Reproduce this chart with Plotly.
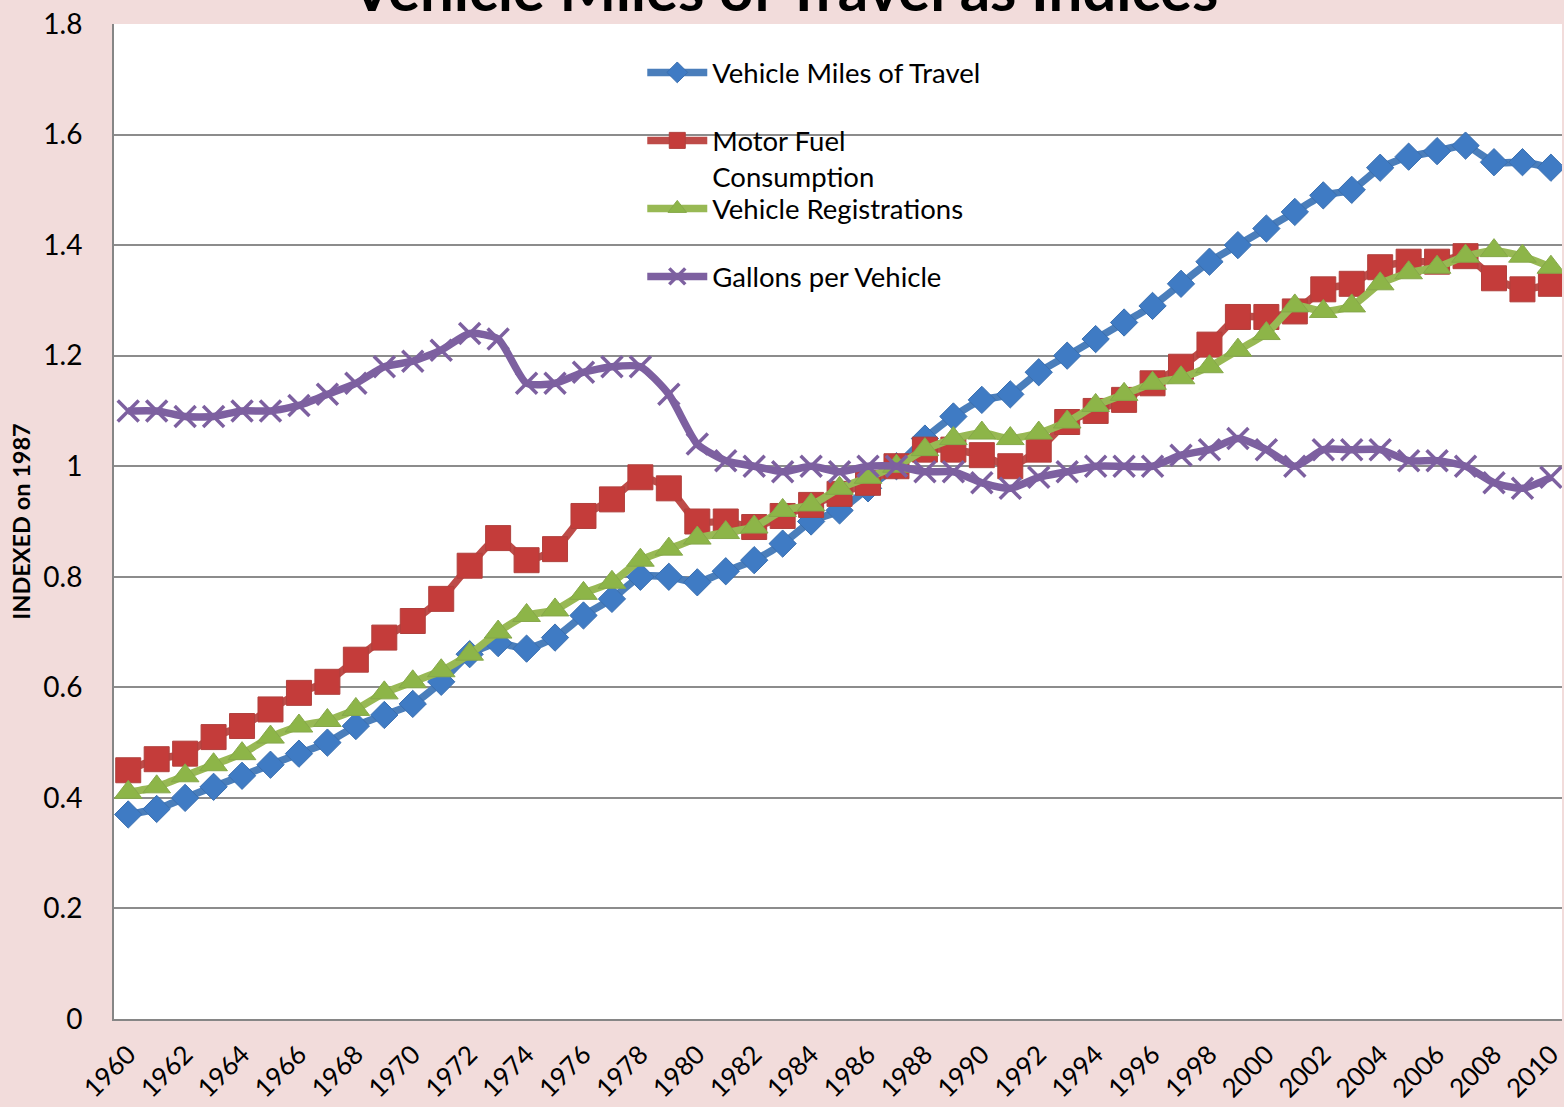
import plotly.graph_objects as go

years = list(range(1960, 2011))

vmt = [0.37, 0.38, 0.40, 0.42, 0.44, 0.46, 0.48, 0.50, 0.53, 0.55,
       0.57, 0.61, 0.66, 0.68, 0.67, 0.69, 0.73, 0.76, 0.80, 0.80,
       0.79, 0.81, 0.83, 0.86, 0.90, 0.92, 0.96, 1.00, 1.05, 1.09,
       1.12, 1.13, 1.17, 1.20, 1.23, 1.26, 1.29, 1.33, 1.37, 1.40,
       1.43, 1.46, 1.49, 1.50, 1.54, 1.56, 1.57, 1.58, 1.55, 1.55,
       1.54]

fuel = [0.45, 0.47, 0.48, 0.51, 0.53, 0.56, 0.59, 0.61, 0.65, 0.69,
        0.72, 0.76, 0.82, 0.87, 0.83, 0.85, 0.91, 0.94, 0.98, 0.96,
        0.90, 0.90, 0.89, 0.91, 0.93, 0.95, 0.97, 1.00, 1.03, 1.03,
        1.02, 1.00, 1.03, 1.08, 1.10, 1.12, 1.15, 1.18, 1.22, 1.27,
        1.27, 1.28, 1.32, 1.33, 1.36, 1.37, 1.37, 1.38, 1.34, 1.32,
        1.33]

registrations = [0.41, 0.42, 0.44, 0.46, 0.48, 0.51, 0.53, 0.54, 0.56, 0.59,
                 0.61, 0.63, 0.66, 0.70, 0.73, 0.74, 0.77, 0.79, 0.83, 0.85,
                 0.87, 0.88, 0.89, 0.92, 0.93, 0.96, 0.98, 1.00, 1.03, 1.05,
                 1.06, 1.05, 1.06, 1.08, 1.11, 1.13, 1.15, 1.16, 1.18, 1.21,
                 1.24, 1.29, 1.28, 1.29, 1.33, 1.35, 1.36, 1.38, 1.39, 1.38,
                 1.36]

gallons = [1.10, 1.10, 1.09, 1.09, 1.10, 1.10, 1.11, 1.13, 1.15, 1.18,
           1.19, 1.21, 1.24, 1.23, 1.15, 1.15, 1.17, 1.18, 1.18, 1.13,
           1.04, 1.01, 1.00, 0.99, 1.00, 0.99, 1.00, 1.00, 0.99, 0.99,
           0.97, 0.96, 0.98, 0.99, 1.00, 1.00, 1.00, 1.02, 1.03, 1.05,
           1.03, 1.00, 1.03, 1.03, 1.03, 1.01, 1.01, 1.00, 0.97, 0.96,
           0.98]

series_names = ["Vehicle Miles of Travel", "Motor Fuel<br>Consumption",
                "Vehicle Registrations", "Gallons per Vehicle"]
tick_years = list(range(1960, 2011, 2))
y_ticks = [0, 0.2, 0.4, 0.6, 0.8, 1, 1.2, 1.4, 1.6, 1.8]
y_ticktext = ["0", "0.2", "0.4", "0.6", "0.8", "1", "1.2", "1.4", "1.6", "1.8"]
title_text = "Vehicle Miles of Travel as Indices"
y_title = "INDEXED on 1987"

FONT = "Lato"
W, H = 1564, 1107
M_L, M_T, M_B = 114, 24, 88
PLOT_W = W - M_L
PLOT_H = H - M_T - M_B

fig = go.Figure()

styles = [
    dict(data=vmt, line="#4A7EBB", marker=dict(symbol="diamond", size=21, color="#3F7BC4",
                                                  line=dict(width=1, color="#3A6FB0"))),
    dict(data=fuel, line="#BE4B48", marker=dict(symbol="square", size=25, color="#C43C3A",
                                                   line=dict(width=1, color="#B0403D"))),
    dict(data=registrations, line="#98B954", marker=dict(symbol="triangle-up", size=24, color="#8DB548",
                                                            line=dict(width=1, color="#86A84A"))),
    dict(data=gallons, line="#7D60A0", marker=dict(symbol="x-thin-open", size=21, color="#7D60A0",
                                                      line=dict(width=3.5, color="#7D60A0"))),
]

# legend entry positions (pixels from top of figure) of each entry's first text line
legend_tops = [48, 116, 184, 252]
legend_ids = ["legend", "legend2", "legend3", "legend4"]

for i, (name, st) in enumerate(zip(series_names, styles)):
    fig.add_trace(go.Scatter(
        x=years, y=st["data"], name=name, mode="lines+markers",
        line=dict(color=st["line"], width=7.5, shape="spline", smoothing=0.6),
        marker=st["marker"], legend=legend_ids[i],
    ))

fig.add_annotation(
    text=title_text, xref="paper", yref="paper", x=0.4625, y=1 - 2.5 / PLOT_H,
    xanchor="center", yanchor="bottom", showarrow=False,
    font=dict(family=FONT, size=60, color="#000000", weight="bold"),
)

legend_common = dict(xanchor="left", yanchor="top", bgcolor="rgba(0,0,0,0)",
                     itemwidth=60, valign="top",
                     font=dict(family=FONT, size=27.5, color="#000000"))
leg_x = (643 - M_L) / PLOT_W
legend_layout = {}
for lid, top in zip(legend_ids, legend_tops):
    legend_layout[lid] = dict(x=leg_x, y=1 - (top - M_T) / PLOT_H, **legend_common)

fig.update_layout(
    width=W, height=H,
    margin=dict(l=M_L, r=0, t=M_T, b=M_B),
    paper_bgcolor="#F2DCDB", plot_bgcolor="#FFFFFF",
    font=dict(family=FONT, size=26, color="#000000"),
    showlegend=True,
    **legend_layout,
    xaxis=dict(range=[1959.5, 2010.39], tickmode="array", tickvals=tick_years,
               ticktext=[str(y) for y in tick_years], tickangle=-45,
               showgrid=False, showline=True, linecolor="#868686", linewidth=2,
               ticks="", ticklabelstandoff=8, zeroline=False,
               ticklabeloverflow="allow",
               tickfont=dict(family=FONT, size=26)),
    yaxis=dict(range=[0, 1.8], tickmode="array", tickvals=y_ticks, ticktext=y_ticktext,
               showgrid=True, gridcolor="#8C8C8C", gridwidth=1.5,
               showline=True, linecolor="#868686", linewidth=2, zeroline=False,
               ticks="", ticklabelstandoff=24,
               tickfont=dict(family=FONT, size=28),
               title=dict(text=y_title, standoff=6,
                          font=dict(family=FONT, size=23.5, weight="bold"))),
)

fig.write_html("out.html", config={"displayModeBar": False},
               post_script="document.body.style.margin='0';document.body.style.overflow='hidden';")
